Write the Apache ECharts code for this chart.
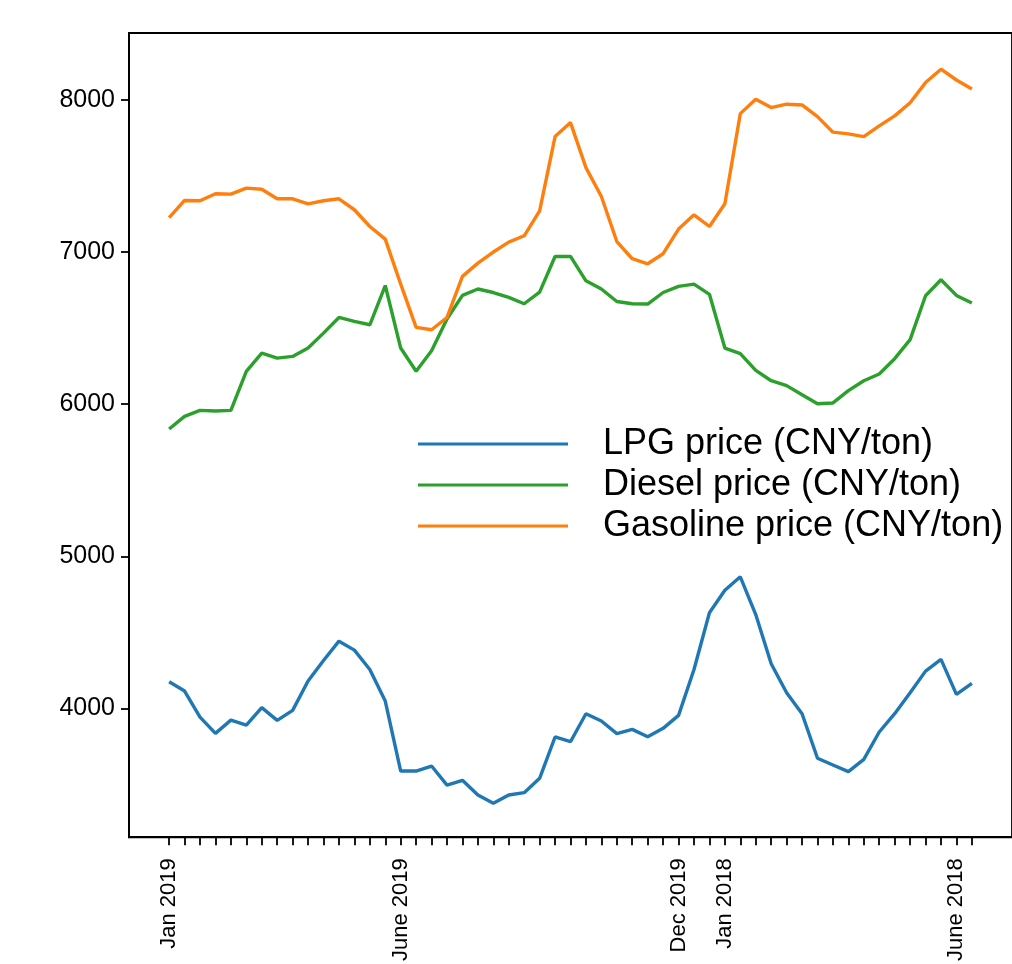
<!DOCTYPE html>
<html>
<head>
<meta charset="utf-8">
<script src="https://cdn.jsdelivr.net/npm/echarts@6/dist/echarts.min.js"></script>
<style>
  html, body { margin: 0; padding: 0; background: #fff; }
  #chart { width: 1012px; height: 964px; }
</style>
</head>
<body>
<div id="chart"></div>
<script>
// 53 consecutive periods; only some carry a tick label
const pointCount = 53;
const labelIndex = [0, 15, 33, 36, 51];
const labelText = ['Jan 2019', 'June 2019', 'Dec 2019', 'Jan 2018', 'June 2018'];
const yTicks = [4000, 5000, 6000, 7000, 8000];

const lpg = [4175, 4114, 3943, 3836, 3923, 3890, 4005, 3921, 3987, 4180,
             4315, 4442, 4383, 4256, 4048, 3588, 3588, 3621, 3496, 3527,
             3431, 3376, 3431, 3446, 3540, 3812, 3781, 3965, 3917, 3834,
             3862, 3814, 3869, 3954, 4256, 4629, 4777, 4865, 4617, 4294,
             4103, 3965, 3672, 3628, 3584, 3665, 3845, 3965, 4103, 4245,
             4322, 4092, 4164];
const diesel = [5837, 5920, 5959, 5955, 5959, 6216, 6336, 6303, 6314, 6369,
                6467, 6570, 6544, 6522, 6780, 6369, 6216, 6351, 6560, 6715,
                6757, 6734, 6702, 6660, 6737, 6971, 6971, 6811, 6757, 6675,
                6660, 6658, 6734, 6774, 6789, 6722, 6369, 6332, 6222, 6154,
                6122, 6062, 6003, 6008, 6089, 6154, 6198, 6299, 6424, 6713,
                6818, 6715, 6665];
const gasoline = [7227, 7339, 7337, 7383, 7381, 7420, 7413, 7350, 7350, 7317,
                  7337, 7350, 7278, 7168, 7085, 6789, 6505, 6489, 6570, 6840,
                  6927, 7000, 7065, 7107, 7271, 7759, 7851, 7555, 7365, 7069,
                  6956, 6923, 6989, 7151, 7245, 7168, 7317, 7910, 8005, 7950,
                  7972, 7967, 7890, 7788, 7777, 7759, 7829, 7895, 7982, 8114,
                  8202, 8131, 8072];

const seriesNames = ['LPG price (CNY/ton)', 'Diesel price (CNY/ton)', 'Gasoline price (CNY/ton)'];
const seriesColors = ['#1f77b4', '#2ca02c', '#ff7f0e'];

const tickIdx = Array.from({length: pointCount}, (_, i) => i);
const toPairs = arr => arr.map((v, i) => [i, v]);

const font = 'Liberation Sans, Arial, Helvetica, sans-serif';
const chart = echarts.init(document.getElementById('chart'), null, {renderer: 'canvas'});

chart.setOption({
  animation: false,
  backgroundColor: '#ffffff',
  grid: {
    left: 129, right: -7, top: 33, bottom: 126,
    show: true, borderColor: '#000', borderWidth: 1.8, backgroundColor: 'transparent'
  },
  legend: {
    orient: 'vertical',
    left: 418, top: 426,
    padding: 0,
    icon: 'rect',
    itemWidth: 150, itemHeight: 3, itemGap: 5,
    data: seriesNames,
    textStyle: { fontFamily: font, fontSize: 36, color: '#000', padding: [0, 0, 0, 30], lineHeight: 36 }
  },
  xAxis: {
    type: 'value',
    min: -2.6, max: 54.6,
    splitLine: { show: false },
    axisLine: { show: true, onZero: false, lineStyle: { color: '#000', width: 1.8 } },
    axisTick: { show: true, length: 8, customValues: tickIdx, lineStyle: { color: '#000', width: 1.8 } },
    axisLabel: {
      customValues: labelIndex,
      rotate: 90,
      margin: 21,
      fontFamily: font, fontSize: 22, color: '#000',
      formatter: v => { const k = labelIndex.indexOf(Math.round(v)); return k >= 0 ? labelText[k] : ''; }
    }
  },
  yAxis: {
    type: 'value',
    min: 3153, max: 8440,
    splitLine: { show: false },
    axisLine: { show: true, onZero: false, lineStyle: { color: '#000', width: 1.8 } },
    axisTick: { show: true, length: 8, customValues: yTicks, lineStyle: { color: '#000', width: 1.8 } },
    axisLabel: {
      customValues: yTicks, margin: 14, fontFamily: font, fontSize: 25, color: '#000',
      formatter: v => String(Math.round(v))
    }
  },
  series: [lpg, diesel, gasoline].map((arr, k) => ({
    name: seriesNames[k],
    type: 'line',
    data: toPairs(arr),
    symbol: 'none',
    color: seriesColors[k],
    itemStyle: { color: seriesColors[k] },
    lineStyle: { width: 3.4, color: seriesColors[k] },
    clip: true
  }))
});
</script>
</body>
</html>
